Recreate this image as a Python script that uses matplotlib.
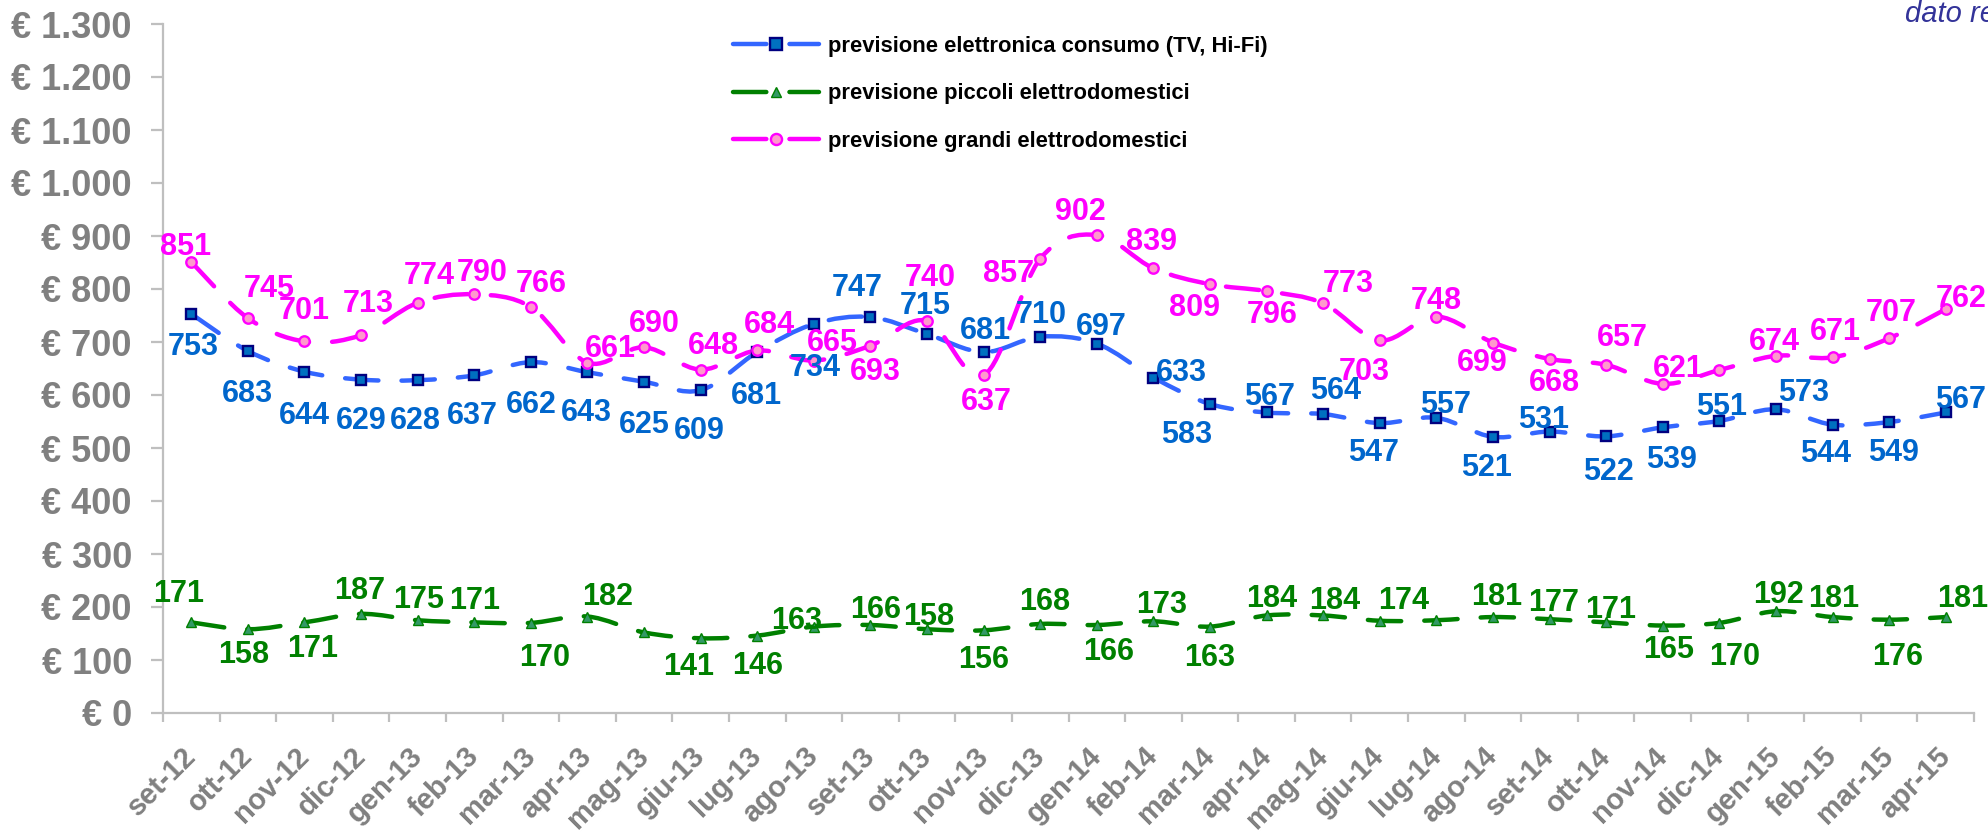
import numpy as np
import matplotlib
matplotlib.use("Agg")
import matplotlib.pyplot as plt
from matplotlib.path import Path
from matplotlib.patches import PathPatch
from matplotlib.lines import Line2D

# ---- data ----
months = ["set-12", "ott-12", "nov-12", "dic-12", "gen-13", "feb-13", "mar-13", "apr-13",
          "mag-13", "giu-13", "lug-13", "ago-13", "set-13", "ott-13", "nov-13", "dic-13",
          "gen-14", "feb-14", "mar-14", "apr-14", "mag-14", "giu-14", "lug-14", "ago-14",
          "set-14", "ott-14", "nov-14", "dic-14", "gen-15", "feb-15", "mar-15", "apr-15"]
elettronica = [753, 683, 644, 629, 628, 637, 662, 643, 625, 609, 681, 734, 747, 715, 681, 710,
               697, 633, 583, 567, 564, 547, 557, 521, 531, 522, 539, 551, 573, 544, 549, 567]
piccoli = [171, 158, 171, 187, 175, 171, 170, 182, 152, 141, 146, 163, 166, 158, 156, 168,
           166, 173, 163, 184, 184, 174, 175, 181, 177, 171, 165, 170, 192, 181, 176, 181]
grandi = [851, 745, 701, 713, 774, 790, 766, 661, 690, 648, 684, 665, 693, 740, 637, 857,
          902, 839, 809, 796, 773, 703, 748, 699, 668, 657, 621, 647, 674, 671, 707, 762]
series_names = ["previsione elettronica consumo (TV, Hi-Fi)",
                "previsione piccoli elettrodomestici",
                "previsione grandi elettrodomestici"]

# label placement: pixel offset of each value label from its marker (+y = down), None = no label
pos_elettronica = [(2, 31), (0, 41), (0, 42), (0, 39), (-2, 39), (-2, 39), (0, 41), (-1, 39),
                   (0, 41), (-1, 39), (-1, 42), (1, 42), (-13, -31), (-2, -30), (2, -23), (1, -24),
                   (5, -19), (28, -7), (-23, 29), (3, -18), (12, -25), (-6, 28), (9, -15), (-6, 29),
                   (-6, -14), (2, 34), (9, 31), (2, -16), (28, -18), (-7, 27), (4, 29), (15, -15)]
pos_piccoli = [(-13, -30), (-4, 24), (8, 25), (-1, -25), (1, -22), (0, -23), (14, 33), (20, -22),
               None, (-12, 27), (0, 28), (-17, -8), (5, -17), (2, -14), (0, 28), (4, -24),
               (12, 25), (8, -18), (0, 29), (5, -19), (12, -17), (24, -22), None, (4, -22),
               (4, -18), (4, -14), (6, 22), (15, 32), (3, -18), (1, -20), (9, 35), (17, -20)]
pos_grandi = [(-6, -17), (21, -31), (0, -33), (7, -33), (12, -29), (8, -23), (10, -25), (23, -16),
              (10, -25), (13, -26), (12, -28), (19, -20), (5, 24), (3, -45), (3, 25), (-32, 13),
              (-16, -25), (-2, -28), (-15, 22), (6, 22), (25, -21), (-16, 30), (0, -18), (-11, 18),
              (5, 22), (16, -29), (16, -17), None, (-2, -16), (3, -27), (2, -27), (15, -12)]

styles = [
    dict(line="#3366FF", marker="s", mfc="#0070C0", mec="#000080", ms=7.5, mew=1.7, text="#0066CC"),
    dict(line="#008000", marker="^", mfc="#339966", mec="#008000", ms=7, mew=1.0, text="#008000"),
    dict(line="#FF00FF", marker="o", mfc="#FF99CC", mec="#FF00FF", ms=7.5, mew=1.7, text="#FF00FF"),
]
DASH = (0, (7.5, 5.2))
LW = 3.2

plt.rcParams["font.family"] = ["Liberation Sans", "DejaVu Sans"]
plt.rcParams["font.weight"] = "bold"


def smooth_path(xs, ys):
    """Cubic Bezier through the points (Excel-style smoothed line)."""
    p = np.column_stack([xs, ys]).astype(float)
    n = len(p)
    verts, codes = [p[0]], [Path.MOVETO]
    for i in range(n - 1):
        p0 = p[i - 1] if i > 0 else p[i]
        p3 = p[i + 2] if i + 2 < n else p[i + 1]
        verts += [p[i] + (p[i + 1] - p0) / 6, p[i + 1] - (p3 - p[i]) / 6, p[i + 1]]
        codes += [Path.CURVE4] * 3
    return Path(verts, codes)


W, H = 1988, 832
fig = plt.figure(figsize=(W / 100, H / 100), dpi=100)
x0, x1, ytop, ybot = 163, 1974, 24, 713
ax = fig.add_axes([x0 / W, 1 - ybot / H, (x1 - x0) / W, (ybot - ytop) / H])

x = np.arange(len(months))
all_vals = [elettronica, piccoli, grandi]
all_pos = [pos_elettronica, pos_piccoli, pos_grandi]

for vals, st in zip(all_vals, styles):
    ax.add_patch(PathPatch(smooth_path(x, vals), fill=False, edgecolor=st["line"], lw=LW,
                           linestyle=DASH, capstyle="round", zorder=2))
for vals, st in zip(all_vals, styles):
    ax.plot(x, vals, linestyle="none", marker=st["marker"], ms=st["ms"], mfc=st["mfc"],
            mec=st["mec"], mew=st["mew"], zorder=3)
for vals, pos, st in zip(all_vals, all_pos, styles):
    for i, v in enumerate(vals):
        if pos[i] is None:
            continue
        dx, dy = pos[i]
        ax.annotate(str(v), (i, v), xytext=(dx * 0.72, -dy * 0.72 - 1.5), textcoords="offset points",
                    ha="center", va="center", fontsize=22, fontweight="bold", color=st["text"],
                    zorder=4)

ax.set_xlim(-0.5, len(months) - 0.5)
ax.set_ylim(0, 1300)
for s in ["top", "right"]:
    ax.spines[s].set_visible(False)
for s in ["left", "bottom"]:
    ax.spines[s].set_color("#BFBFBF")
    ax.spines[s].set_linewidth(1.6)

yt = np.arange(0, 1301, 100)
ax.set_yticks(yt)
ax.set_yticklabels([("€ " + f"{v:,}".replace(",", ".")) for v in yt], fontsize=26,
                   fontweight="bold", color="#808080")
ax.tick_params(axis="y", length=8.4, width=1.6, color="#BFBFBF", pad=14)

ax.set_xticks(x)
ax.set_xticklabels(months, fontsize=21, fontweight="bold", color="#808080")
ax.set_xticks(np.arange(-0.5, len(months), 1), minor=True)
ax.tick_params(axis="x", which="major", length=0, pad=28)
ax.tick_params(axis="x", which="minor", length=6.5, width=1.6, color="#BFBFBF", direction="out")
plt.setp(ax.get_xticklabels(), rotation=45, ha="right", va="center", rotation_mode="anchor")

handles = [Line2D([], [], color=st["line"], lw=LW, linestyle=DASH, dash_capstyle="round",
                  marker=st["marker"], ms=st["ms"] + 0.5, mfc=st["mfc"], mec=st["mec"],
                  mew=st["mew"])
           for st in styles]
fig.legend(handles, series_names, loc="upper left", bbox_to_anchor=(733 / W, 1 - 36 / H),
           frameon=False, prop=dict(size=15.8, weight="bold"), handlelength=3.9,
           handletextpad=0.45, labelspacing=1.2, borderpad=0, borderaxespad=0)

fig.text(1905 / W, 1 - 22 / H, "dato reale", fontsize=21, style="italic", fontweight="normal",
         color="#333399", ha="left", va="baseline")

fig.savefig("out.png", dpi=100)
